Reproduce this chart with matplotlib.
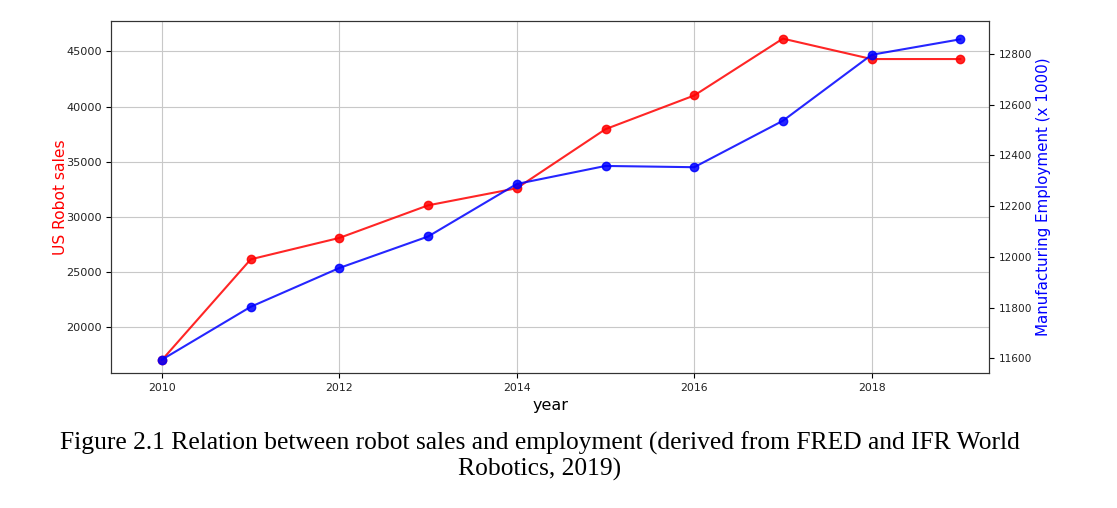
import numpy as np
from matplotlib import pyplot as plt

years = [2010, 2011, 2012, 2013, 2014, 2015, 2016, 2017, 2018, 2019]
robot_sales = [17050, 26160, 28100, 31050, 32600, 37950, 41000, 46150, 44300, 44300]
employment = [11595, 11803, 11956, 12080, 12287, 12358, 12353, 12536, 12796, 12857]

caption = ("Figure 2.1 Relation between robot sales and employment (derived from FRED and IFR World\n"
           "Robotics, 2019)")

fig = plt.figure(figsize=(11.17, 5.08), dpi=100)
ax1 = fig.add_axes([0.0998, 0.2657, 0.7853, 0.6939])

ax1.plot(years, robot_sales, color="r", marker="o", alpha=0.85, lw=1.5, ms=6)
ax1.set_xlim(2009.43, 2019.32)
ax1.set_ylim(15860, 47790)
ax1.set_xticks([2010, 2012, 2014, 2016, 2018])
ax1.set_yticks([20000, 25000, 30000, 35000, 40000, 45000])
ax1.set_ylabel("US Robot sales", color="r", fontsize=11.2, labelpad=-1)
ax1.set_xlabel("year", fontsize=11.5)
ax1.tick_params(axis="y", labelsize=8.1, labelcolor="#222222")
ax1.tick_params(axis="x", labelsize=7.8, labelcolor="#222222")
ax1.grid(True, color="#c8c8c8")
for s in ax1.spines.values():
    s.set_color("#333333")

ax2 = ax1.twinx()
ax2.plot(years, employment, color="b", marker="o", alpha=0.85, lw=1.5, ms=6)
ax2.set_ylim(11542, 12931)
ax2.set_yticks([11600, 11800, 12000, 12200, 12400, 12600, 12800])
ax2.set_ylabel("Manufacturing Employment (x 1000)", color="b", fontsize=10.9, labelpad=3)
ax2.tick_params(labelsize=7.6, labelcolor="#222222")
for s in ax2.spines.values():
    s.set_color("#333333")

fig.text(0.4834, 0.102, caption, ha="center", va="center", fontsize=18.4,
         family="Liberation Serif", linespacing=1.15, multialignment="center")

fig.savefig("out.png", dpi=100)
